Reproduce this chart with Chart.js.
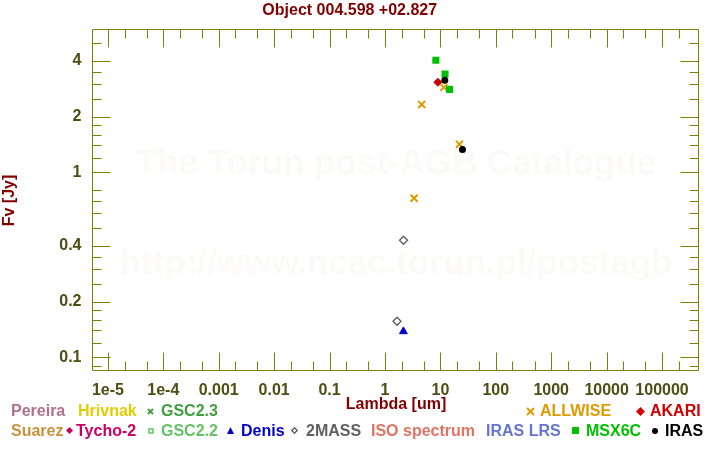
<!DOCTYPE html>
<html>
<head>
<meta charset="utf-8">
<script src="https://cdn.jsdelivr.net/npm/chart.js@4.4.0/dist/chart.umd.min.js"></script>
<style>
  body { margin: 0; background: #fff; }
  #wrap { position: relative; width: 720px; height: 450px; font-family: "Liberation Sans", Arial, sans-serif; font-weight: bold; font-size: 16px; }
  #chart { position: absolute; left: 0; top: 0; }
  .lg { position: absolute; white-space: nowrap; line-height: 16px; }
  .mk { position: absolute; line-height: 0; }
  .mk svg { display: block; }
</style>
</head>
<body>
<div id="wrap"><canvas id="chart" width="720" height="450"></canvas></div>
<script>
// photometry: wavelength [um] and flux [Jy]
const allwiseX = [3.35, 4.6, 11.56, 22.08];
const allwiseY = [0.724, 2.33, 2.88, 1.42];
const akariX = [9];
const akariY = [3.07];
const msxX = [8.28, 12.13, 14.65];
const msxY = [4.04, 3.40, 2.81];
const irasX = [12, 25];
const irasY = [3.15, 1.33];
const twomassX = [1.65, 2.16];
const twomassY = [0.1565, 0.429];
const denisX = [2.15];
const denisY = [0.138];

const xTickValues = [1e-5, 1e-4, 0.001, 0.01, 0.1, 1, 10, 100, 1000, 10000, 100000];
const xTickLabels = ["1e-5", "1e-4", "0.001", "0.01", "0.1", "1", "10", "100", "1000", "10000", "100000"];
const yTickValues = [0.1, 0.2, 0.4, 1, 2, 4];
const yTickLabels = ["0.1", "0.2", "0.4", "1", "2", "4"];
const yMinorTicks = [0.09, 0.12, 0.14, 0.16, 0.18, 0.25, 0.3, 0.35, 0.5, 0.6, 0.7, 0.8, 1.2, 1.4, 1.6, 1.8, 2.5, 3, 3.5, 5];

const xMin = 5.275e-6, xMax = 4.74e5;
const yMin = 0.0838, yMax = 5.92;

const legendLabels = ["Pereira", "Hrivnak", "GSC2.3", "ALLWISE", "AKARI",
  "Suarez", "Tycho-2", "GSC2.2", "Denis", "2MASS", "ISO spectrum", "IRAS LRS", "MSX6C", "IRAS"];
const legendColors = ["#b0708c", "#e6cc00", "#3f9f3f", "#e09a00", "#d00000",
  "#c8913c", "#cc0066", "#66c266", "#0000cc", "#606060", "#e07464", "#6474d4", "#00c000", "#000000"];
const legendMarkers = [null, null, "cross", "cross", "diamond",
  null, "diamond", "openSquare", "triangle", "openDiamond", null, null, "square", "circle"];

// layout of the legend: [text left, text top, marker centre x, marker size]
const legendPlace = [
  [11, 403, 0, 0], [78, 403, 0, 0], [161, 403, 150.7, 7], [540, 403, 530.3, 9], [650, 403, 640.7, 9],
  [11, 422.5, 0, 0], [76, 422.5, 69.7, 7], [161, 422.5, 150.7, 6], [241, 422.5, 230, 7], [306, 422.5, 294, 7],
  [371, 422.5, 0, 0], [486, 422.5, 0, 0], [586, 422.5, 575.3, 7], [665, 422.5, 654.7, 6]
];
const watermark = ["The Torun post-AGB Catalogue", "http://www.ncac.torun.pl/postagb"];

const fontFamily = '"Liberation Sans", Arial, sans-serif';
const tickColor = "#4d4d14";
const titleColor = "#800000";
const frameColor = "#808000";

function pts(xs, ys) {
  return xs.map((x, i) => ({ x: x, y: ys[i] }));
}

function markerSvg(type, color, s) {
  let body = "";
  if (type === "cross") {
    body = `<line x1="1" y1="1" x2="${s-1}" y2="${s-1}" stroke="${color}" stroke-width="2"/>` +
           `<line x1="${s-1}" y1="1" x2="1" y2="${s-1}" stroke="${color}" stroke-width="2"/>`;
  } else if (type === "diamond") {
    body = `<polygon points="${s/2},0 ${s},${s/2} ${s/2},${s} 0,${s/2}" fill="${color}"/>`;
  } else if (type === "openDiamond") {
    body = `<polygon points="${s/2},0.8 ${s-0.8},${s/2} ${s/2},${s-0.8} 0.8,${s/2}" fill="none" stroke="${color}" stroke-width="1.4"/>`;
  } else if (type === "openSquare") {
    body = `<rect x="1" y="1" width="${s-2}" height="${s-2}" fill="none" stroke="${color}" stroke-width="1.5"/>`;
  } else if (type === "square") {
    body = `<rect x="0" y="0" width="${s}" height="${s}" fill="${color}"/>`;
  } else if (type === "triangle") {
    body = `<polygon points="${s/2},0 ${s},${s} 0,${s}" fill="${color}"/>`;
  } else if (type === "circle") {
    body = `<circle cx="${s/2}" cy="${s/2}" r="${s/2}" fill="${color}"/>`;
  }
  return `<svg xmlns="http://www.w3.org/2000/svg" width="${s}" height="${s}">${body}</svg>`;
}

function buildLegend() {
  const wrap = document.getElementById("wrap");
  legendLabels.forEach((label, i) => {
    const [tx, ty, mx, ms] = legendPlace[i];
    const span = document.createElement("div");
    span.className = "lg";
    span.style.left = tx + "px";
    span.style.top = ty + "px";
    span.style.color = legendColors[i];
    span.textContent = label;
    wrap.appendChild(span);
    if (legendMarkers[i]) {
      const mk = document.createElement("div");
      mk.className = "mk";
      mk.style.left = (mx - ms / 2) + "px";
      mk.style.top = (ty + 8 - ms / 2) + "px";
      mk.style.width = ms + "px";
      mk.style.height = ms + "px";
      mk.innerHTML = markerSvg(legendMarkers[i], legendColors[i], ms);
      wrap.appendChild(mk);
    }
  });
}

const frameTicks = {
  id: "frameTicks",
  beforeDatasetsDraw(chart) {
    const { ctx, chartArea } = chart;
    ctx.save();
    ctx.fillStyle = "#fcfaf7";
    ctx.font = "bold 35px " + fontFamily;
    ctx.textAlign = "center";
    ctx.textBaseline = "alphabetic";
    const cx = (chartArea.left + chartArea.right) / 2;
    ctx.fillText(watermark[0], cx, 174.3);
    ctx.fillText(watermark[1], cx, 274.3);
    ctx.restore();
  },
  afterDraw(chart) {
    const { ctx, chartArea } = chart;
    const xs = chart.scales.x, ys = chart.scales.y;
    const L = Math.floor(chartArea.left) + 0.5, R = Math.floor(chartArea.right) - 0.5;
    const T = Math.floor(chartArea.top) + 0.5, B = Math.floor(chartArea.bottom) - 0.5;
    ctx.save();
    ctx.strokeStyle = frameColor;
    ctx.lineWidth = 1;
    ctx.beginPath();
    ctx.rect(L, T, R - L, B - T);
    const vTick = (v, len) => {
      const p = Math.round(xs.getPixelForValue(v)) + 0.5;
      if (p <= L || p >= R) return;
      ctx.moveTo(p, B); ctx.lineTo(p, B - len);
      ctx.moveTo(p, T); ctx.lineTo(p, T + len);
    };
    const hTick = (v, len) => {
      const p = Math.round(ys.getPixelForValue(v)) + 0.5;
      if (p <= T || p >= B) return;
      ctx.moveTo(L, p); ctx.lineTo(L + len, p);
      ctx.moveTo(R, p); ctx.lineTo(R - len, p);
    };
    xTickValues.forEach(v => {
      vTick(v, 18);
      vTick(v * 2, 9);
      vTick(v * 5, 9);
    });
    yTickValues.forEach(v => hTick(v, 18));
    yMinorTicks.forEach(v => hTick(v, 9));
    ctx.stroke();
    ctx.restore();
  }
};

buildLegend();

const ctx = document.getElementById("chart").getContext("2d");
new Chart(ctx, {
  type: "scatter",
  data: {
    datasets: [
      { label: "2MASS", data: pts(twomassX, twomassY), pointStyle: "rectRot", pointRadius: 4,
        backgroundColor: "rgba(0,0,0,0)", borderColor: "#606060", borderWidth: 1.4, order: 6 },
      { label: "Denis", data: pts(denisX, denisY), pointStyle: "triangle", pointRadius: 4.5,
        backgroundColor: "#0000cc", borderColor: "#0000cc", borderWidth: 1, order: 5 },
      { label: "ALLWISE", data: pts(allwiseX, allwiseY), pointStyle: "crossRot", pointRadius: 5,
        backgroundColor: "#e09a00", borderColor: "#e09a00", borderWidth: 2, order: 4 },
      { label: "AKARI", data: pts(akariX, akariY), pointStyle: "rectRot", pointRadius: 4,
        backgroundColor: "#cc0000", borderColor: "#cc0000", borderWidth: 1, order: 3 },
      { label: "MSX6C", data: pts(msxX, msxY), pointStyle: "rect", pointRadius: 5,
        backgroundColor: "#00c000", borderColor: "#00c000", borderWidth: 0, order: 2 },
      { label: "IRAS", data: pts(irasX, irasY), pointStyle: "circle", pointRadius: 3.5,
        backgroundColor: "#000000", borderColor: "#000000", borderWidth: 0, order: 1 }
    ]
  },
  options: {
    responsive: false,
    animation: false,
    events: [],
    layout: { padding: { left: 0, right: 20.5, top: 0, bottom: 0 } },
    plugins: {
      legend: { display: false },
      tooltip: { enabled: false },
      title: {
        display: true,
        text: "Object 004.598 +02.827",
        color: titleColor,
        font: { family: fontFamily, size: 16, weight: "bold" },
        padding: { top: 1, bottom: 9.3 }
      }
    },
    scales: {
      x: {
        type: "logarithmic",
        min: xMin,
        max: xMax,
        afterBuildTicks: s => { s.ticks = xTickValues.map(v => ({ value: v })); },
        afterFit: s => { s.height = 78.5; s.paddingLeft = 0; s.paddingRight = 0; },
        grid: { display: false },
        border: { display: false },
        ticks: {
          autoSkip: false, maxRotation: 0, minRotation: 0, padding: 1.4,
          color: tickColor,
          font: { family: fontFamily, size: 16, weight: "bold" },
          callback: (v, i) => xTickLabels[i]
        },
        title: {
          display: true, text: "Lambda [um]", color: titleColor,
          font: { family: fontFamily, size: 16, weight: "bold" },
          padding: { top: 0, bottom: 36.1 }
        }
      },
      y: {
        type: "logarithmic",
        min: yMin,
        max: yMax,
        afterBuildTicks: s => { s.ticks = yTickValues.map(v => ({ value: v })); },
        afterFit: s => { s.width = 92.5; s.paddingTop = 0; s.paddingBottom = 0; },
        grid: { display: false },
        border: { display: false },
        ticks: {
          autoSkip: false, padding: 3,
          color: tickColor,
          font: { family: fontFamily, size: 16, weight: "bold" },
          callback: (v, i) => yTickLabels[i]
        },
        title: {
          display: true, text: "Fv [Jy]", color: titleColor,
          font: { family: fontFamily, size: 16, weight: "bold" },
          padding: { top: 0.4, bottom: 0 }
        }
      }
    }
  },
  plugins: [frameTicks]
});
</script>
</body>
</html>
